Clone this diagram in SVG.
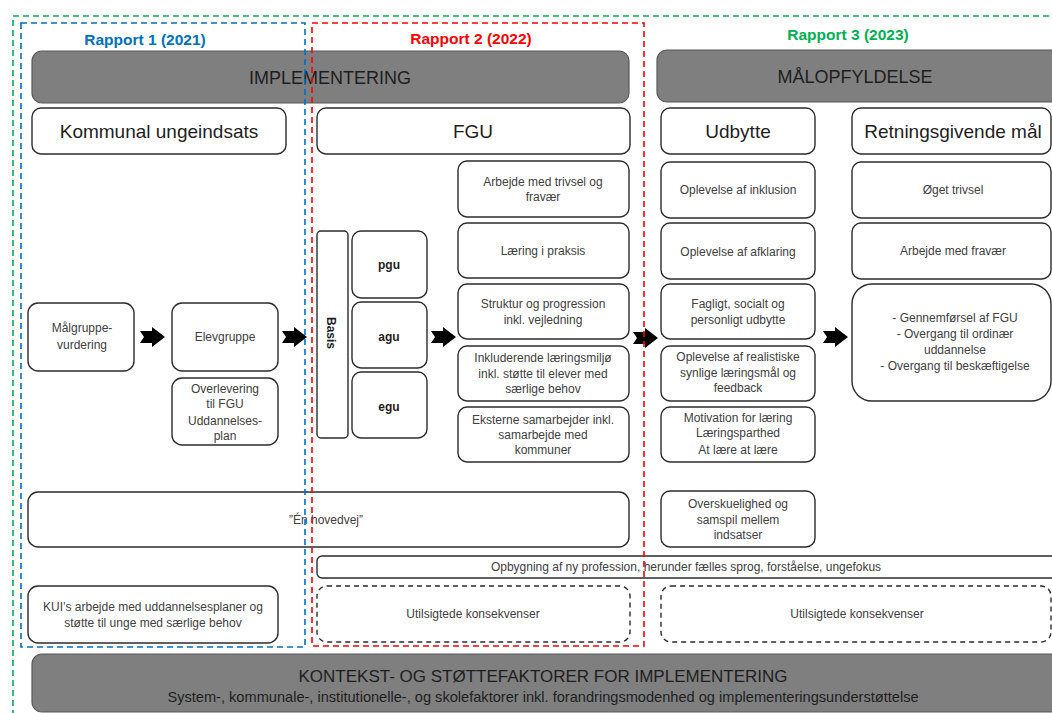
<svg xmlns="http://www.w3.org/2000/svg" width="1052" height="713" viewBox="0 0 1052 713">
<style>
text{font-family:"Liberation Sans",Arial,sans-serif;}
.bar{fill:#7f7f7f;stroke:#595959;stroke-width:1.2;}
.box{fill:#fff;stroke:#2b2b2b;stroke-width:1.4;}
.dbox{fill:#fff;stroke:#2b2b2b;stroke-width:1.4;stroke-dasharray:5,4;}
.hdr{font-size:19px;fill:#1e1e1e;text-anchor:middle;}
.big{font-size:18px;fill:#1e1e1e;text-anchor:middle;}
.t{font-size:12px;fill:#404040;text-anchor:middle;}
.b{font-size:12px;fill:#1e1e1e;font-weight:bold;text-anchor:middle;}
.rep{font-size:15.5px;font-weight:bold;text-anchor:middle;}
.fr{fill:none;stroke-width:1.6;stroke-dasharray:6,4;}
.arr{fill:#000;}
</style>
<defs>
<polygon id="arrow" points="0,-6 12,-6 12,-10 25,0 12,10 12,6 0,6 4,0"/>
</defs>
<rect width="1052" height="713" fill="#fff"/>

<g id="bar-implementering"><rect class="bar" x="32" y="51" width="597" height="52" rx="10"/><text class="big" x="330" y="84">IMPLEMENTERING</text></g>
<g id="bar-malopfyldelse"><rect class="bar" x="657" y="50" width="405" height="52" rx="10"/><text class="big" x="855" y="83">MÅLOPFYLDELSE</text></g>

<g id="hdr-kommunal"><rect class="box" x="32" y="108" width="254" height="46" rx="9"/><text class="hdr" x="159" y="138">Kommunal ungeindsats</text></g>
<g id="hdr-fgu"><rect class="box" x="317" y="108" width="313" height="46" rx="9"/><text class="hdr" x="473" y="138">FGU</text></g>
<g id="hdr-udbytte"><rect class="box" x="661" y="108" width="154" height="46" rx="9"/><text class="hdr" x="738" y="138">Udbytte</text></g>
<g id="hdr-retning"><rect class="box" x="852" y="108" width="199" height="46" rx="9"/><text class="hdr" x="953" y="138">Retningsgivende mål</text></g>

<g id="malgruppe"><rect class="box" x="28" y="303" width="106" height="68" rx="10"/><text class="t" x="82" y="332">Målgruppe-</text><text class="t" x="82" y="349">vurdering</text></g>
<g id="elevgruppe"><rect class="box" x="172" y="303" width="106" height="68" rx="10"/><text class="t" x="225" y="341">Elevgruppe</text></g>
<g id="overlevering"><rect class="box" x="172" y="378" width="106" height="67" rx="10"/><text class="t" x="225" y="393">Overlevering</text><text class="t" x="225" y="408">til FGU</text><text class="t" x="225" y="425">Uddannelses-</text><text class="t" x="225" y="440">plan</text></g>

<g id="basis"><rect class="box" x="317" y="231" width="31" height="207" rx="4"/><text class="b" transform="translate(331,333) rotate(90)" x="0" y="4">Basis</text></g>
<g id="pgu"><rect class="box" x="352" y="231" width="75" height="67" rx="9"/><text class="b" x="389" y="269">pgu</text></g>
<g id="agu"><rect class="box" x="352" y="302" width="75" height="66" rx="9"/><text class="b" x="389" y="341">agu</text></g>
<g id="egu"><rect class="box" x="352" y="372" width="75" height="66" rx="9"/><text class="b" x="389" y="411">egu</text></g>

<g id="fgu-trivsel"><rect class="box" x="458" y="161" width="171" height="56" rx="9"/><text class="t" x="543" y="186">Arbejde med trivsel og</text><text class="t" x="543" y="201">fravær</text></g>
<g id="fgu-praksis"><rect class="box" x="458" y="223" width="171" height="55" rx="9"/><text class="t" x="543" y="255">Læring i praksis</text></g>
<g id="fgu-struktur"><rect class="box" x="458" y="284" width="171" height="55" rx="9"/><text class="t" x="543" y="308">Struktur og progression</text><text class="t" x="543" y="324">inkl. vejledning</text></g>
<g id="fgu-inkl"><rect class="box" x="458" y="346" width="171" height="55" rx="9"/><text class="t" x="543" y="362">Inkluderende læringsmiljø</text><text class="t" x="543" y="378">inkl. støtte til elever med</text><text class="t" x="543" y="393">særlige behov</text></g>
<g id="fgu-eksterne"><rect class="box" x="458" y="407" width="171" height="55" rx="9"/><text class="t" x="543" y="424">Eksterne samarbejder inkl.</text><text class="t" x="543" y="439">samarbejde med</text><text class="t" x="543" y="454">kommuner</text></g>

<g id="ud-inklusion"><rect class="box" x="661" y="162" width="154" height="56" rx="9"/><text class="t" x="738" y="194">Oplevelse af inklusion</text></g>
<g id="ud-afklaring"><rect class="box" x="661" y="223" width="154" height="56" rx="9"/><text class="t" x="738" y="256">Oplevelse af afklaring</text></g>
<g id="ud-fagligt"><rect class="box" x="661" y="284" width="154" height="55" rx="9"/><text class="t" x="738" y="308">Fagligt, socialt og</text><text class="t" x="738" y="324">personligt udbytte</text></g>
<g id="ud-realistiske"><rect class="box" x="661" y="346" width="154" height="55" rx="9"/><text class="t" x="738" y="361">Oplevelse af realistiske</text><text class="t" x="738" y="377">synlige læringsmål og</text><text class="t" x="738" y="392">feedback</text></g>
<g id="ud-motivation"><rect class="box" x="661" y="407" width="154" height="55" rx="9"/><text class="t" x="738" y="422">Motivation for læring</text><text class="t" x="738" y="437">Læringsparthed</text><text class="t" x="738" y="454">At lære at lære</text></g>
<g id="ud-overskuelighed"><rect class="box" x="661" y="491" width="154" height="56" rx="9"/><text class="t" x="738" y="508">Overskuelighed og</text><text class="t" x="738" y="524">samspil mellem</text><text class="t" x="738" y="539">indsatser</text></g>

<g id="mal-trivsel"><rect class="box" x="852" y="162" width="199" height="56" rx="9"/><text class="t" x="953" y="194">Øget trivsel</text></g>
<g id="mal-fravaer"><rect class="box" x="852" y="223" width="199" height="56" rx="9"/><text class="t" x="953" y="255">Arbejde med fravær</text></g>
<g id="mal-overgang"><rect class="box" x="852" y="284" width="199" height="117" rx="20"/><text class="t" x="955" y="322">- Gennemførsel af FGU</text><text class="t" x="955" y="338">- Overgang til ordinær</text><text class="t" x="955" y="354">uddannelse</text><text class="t" x="955" y="370">- Overgang til beskæftigelse</text></g>

<g id="hovedvej"><rect class="box" x="28" y="492" width="601" height="55" rx="10"/><text class="t" x="326" y="524">”Én hovedvej”</text></g>
<g id="opbygning"><rect class="box" x="317" y="556" width="745" height="22" rx="5"/><text class="t" x="686" y="571">Opbygning af ny profession, herunder fælles sprog, forståelse, ungefokus</text></g>
<g id="kui"><rect class="box" x="28" y="586" width="250" height="57" rx="10"/><text class="t" x="153" y="611">KUI’s arbejde med uddannelsesplaner og</text><text class="t" x="153" y="627">støtte til unge med særlige behov</text></g>
<g id="utilsigtede-1"><rect class="dbox" x="317" y="586" width="313" height="56" rx="10"/><text class="t" x="473" y="618">Utilsigtede konsekvenser</text></g>
<g id="utilsigtede-2"><rect class="dbox" x="661" y="586" width="390" height="56" rx="10"/><text class="t" x="857" y="618">Utilsigtede konsekvenser</text></g>

<g id="bar-kontekst"><rect class="bar" x="32" y="654" width="1030" height="58" rx="10"/><text class="big" x="543" y="682" style="font-size:17px">KONTEKST- OG STØTTEFAKTORER FOR IMPLEMENTERING</text><text x="543" y="702" style="font-size:14.6px;fill:#1e1e1e;text-anchor:middle">System-, kommunale-, institutionelle-, og skolefaktorer inkl. forandringsmodenhed og implementeringsunderstøttelse</text></g>

<g id="connectors">
<use href="#arrow" class="arr" x="140" y="337"/>
<use href="#arrow" class="arr" x="282" y="337"/>
<use href="#arrow" class="arr" x="431" y="337"/>
<use href="#arrow" class="arr" x="633" y="338"/>
<use href="#arrow" class="arr" x="823" y="337"/>
</g>

<g id="frames">
<rect class="fr" x="13" y="16" width="1060" height="720" stroke="#00b050"/>
<rect class="fr" x="21" y="23" width="284" height="624" stroke="#0070c0"/>
<rect class="fr" x="312" y="23" width="332" height="623" stroke="#ff0000"/>
<text class="rep" x="145" y="45" fill="#0070c0">Rapport 1 (2021)</text>
<text class="rep" x="471" y="44" fill="#ff0000">Rapport 2 (2022)</text>
<text class="rep" x="848" y="40" fill="#00b050">Rapport 3 (2023)</text>
</g>
</svg>
